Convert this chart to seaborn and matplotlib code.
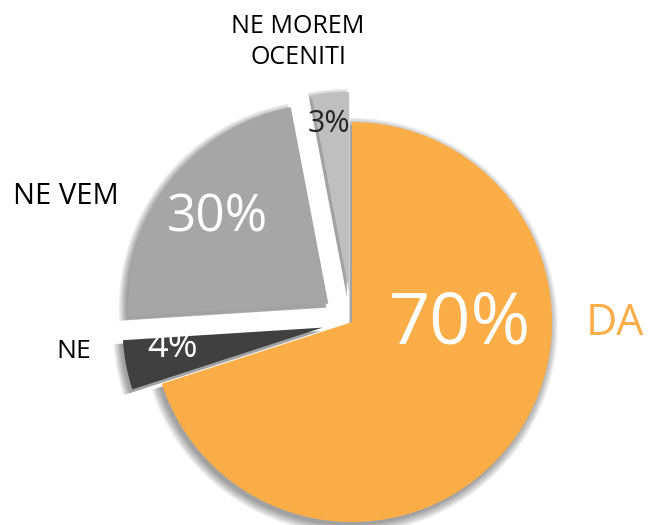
import matplotlib
matplotlib.use("Agg")
import matplotlib.pyplot as plt
import seaborn as sns

# ----------------------------
# Data
# ----------------------------
categories = ["DA", "NE", "NE VEM", "NE MOREM\nOCENITI"]
shares = [70, 4, 23, 3]                       # slice sizes
pct_labels = ["70%", "4%", "30%", "3%"]       # labels as printed on the chart
colors = ["#FBAD47", "#404040", "#A6A6A6", "#BFBFBF"]
explode = [0, 0.15, 0.15, 0.15]

# label placement (data units, pie radius = 1)
pct_pos = [(0.54, -0.015), (-0.895, -0.13), (-0.675, 0.52), (-0.115, 0.99)]
pct_size = [52, 26, 37, 22]
pct_color = ["white", "white", "white", "#262626"]
cat_pos = [(1.315, -0.01), (-1.39, -0.15), (-1.43, 0.625), (-0.27, 1.40)]
cat_size = [31, 19, 21, 18]
cat_color = ["#FBAD47", "black", "black", "black"]

# ----------------------------
# Chart
# ----------------------------
sns.set_theme(style="white")
plt.rcParams["font.family"] = ["Open Sans", "DejaVu Sans"]

fig = plt.figure(figsize=(6.49, 5.25), dpi=100)
ax = fig.add_axes([0, 0, 1, 1])

# soft shadow: a few faint grey pies stacked under the real one
for i in range(6):
    r = 1.0 + 0.008 * i
    ax.pie(
        shares,
        colors=["#000000"] * len(shares),
        explode=[e / r for e in explode],
        startangle=90,
        counterclock=False,
        radius=r,
        center=(-0.012, -0.018),
        wedgeprops=dict(linewidth=0, alpha=0.07, zorder=1),
    )

ax.pie(
    shares,
    colors=colors,
    explode=explode,
    startangle=90,
    counterclock=False,
    radius=1,
    wedgeprops=dict(linewidth=0, zorder=2),
)

for txt, (x, y), fs, c in zip(pct_labels, pct_pos, pct_size, pct_color):
    ax.text(x, y, txt, ha="center", va="center", fontsize=fs, color=c, zorder=3)

for txt, (x, y), fs, c in zip(categories, cat_pos, cat_size, cat_color):
    ax.text(x, y, txt, ha="center", va="center", fontsize=fs, color=c,
            linespacing=1.3, zorder=3)

ax.set_xlim(-1.76, 1.485)
ax.set_ylim(-1.015, 1.61)
ax.set_aspect("equal")
ax.axis("off")

fig.savefig("out.png", dpi=100)
